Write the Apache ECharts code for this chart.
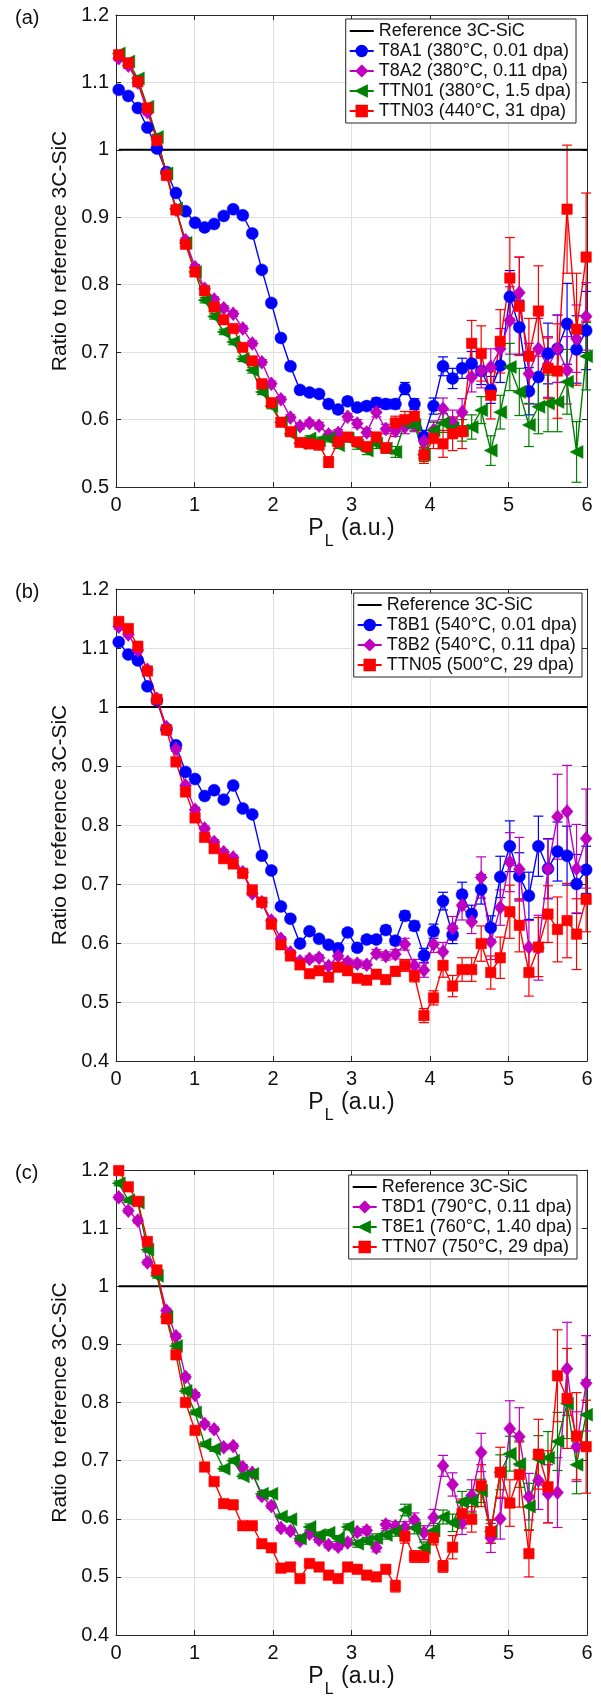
<!DOCTYPE html>
<html><head><meta charset="utf-8">
<script src="https://cdn.jsdelivr.net/npm/echarts@6/dist/echarts.min.js"></script>
<style>html,body{margin:0;padding:0;background:#fff}#c{width:601px;height:1699px}</style>
</head><body><div id="c"></div>
<script>
// ---------- data ----------
const PL = [0.035,0.157,0.278,0.400,0.521,0.643,0.764,0.886,1.007,1.129,1.250,1.372,1.493,1.615,1.736,1.858,1.979,2.101,2.222,2.344,2.465,2.587,2.708,2.830,2.951,3.073,3.194,3.316,3.437,3.559,3.680,3.802,3.923,4.045,4.166,4.288,4.409,4.531,4.652,4.774,4.895,5.017,5.138,5.260,5.381,5.503,5.624,5.746,5.867,5.989];
const X_TICKS = [0,1,2,3,4,5,6];
const REF_VALUE = 1;
const REF_NAME = 'Reference 3C-SiC';

// panel (a)
const T8A1 = [1.089,1.080,1.062,1.033,1.002,0.967,0.936,0.909,0.892,0.885,0.890,0.902,0.912,0.903,0.876,0.822,0.773,0.721,0.679,0.644,0.640,0.638,0.623,0.615,0.627,
              0.618,0.620,0.625,0.623,0.623,0.646,0.623,0.574,0.620,0.679,0.661,0.676,0.683,0.672,0.644,0.680,0.782,0.737,0.642,0.663,0.698,0.705,0.742,0.704,0.732];
const T8A1_ERR = [0.004,0.004,0.004,0.004,0.004,0.004,0.004,0.004,0.004,0.004,0.004,0.004,0.004,0.004,0.004,0.004,0.004,0.004,0.005,0.005,0.005,0.005,0.006,0.006,0.006,
              0.006,0.006,0.007,0.007,0.007,0.009,0.008,0.010,0.012,0.014,0.015,0.015,0.018,0.020,0.020,0.025,0.039,0.040,0.035,0.040,0.045,0.050,0.060,0.050,0.058];
const T8A2 = [1.136,1.125,1.100,1.056,1.015,0.965,0.911,0.866,0.826,0.794,0.778,0.765,0.757,0.735,0.713,0.685,0.653,0.630,0.603,0.590,0.595,0.591,0.578,0.580,0.604,
              0.594,0.581,0.611,0.586,0.583,0.589,0.592,0.568,0.584,0.616,0.596,0.611,0.663,0.672,0.678,0.705,0.747,0.788,0.668,0.705,0.678,0.705,0.673,0.720,0.753];
const T8A2_ERR = [0.004,0.004,0.004,0.004,0.004,0.004,0.004,0.004,0.004,0.004,0.004,0.004,0.004,0.004,0.004,0.004,0.004,0.004,0.004,0.004,0.004,0.005,0.005,0.005,0.005,
              0.006,0.006,0.007,0.007,0.008,0.010,0.010,0.012,0.014,0.016,0.018,0.020,0.022,0.025,0.027,0.030,0.050,0.053,0.045,0.045,0.045,0.050,0.050,0.050,0.050];
const TTN01 = [1.143,1.131,1.106,1.064,1.019,0.965,0.913,0.862,0.819,0.777,0.753,0.730,0.715,0.690,0.673,0.641,0.620,0.596,0.579,0.565,0.572,0.569,0.572,0.562,0.572,
              0.562,0.554,0.564,0.557,0.552,0.595,0.592,0.548,0.584,0.595,0.587,0.584,0.589,0.614,0.554,0.611,0.678,0.641,0.592,0.619,0.624,0.626,0.656,0.552,0.694];
const TTN01_ERR = [0.004,0.004,0.004,0.004,0.004,0.004,0.004,0.004,0.004,0.004,0.004,0.004,0.004,0.004,0.004,0.004,0.004,0.004,0.004,0.004,0.004,0.005,0.005,0.005,0.005,
              0.006,0.006,0.007,0.007,0.008,0.008,0.008,0.010,0.012,0.014,0.015,0.016,0.018,0.020,0.022,0.025,0.035,0.035,0.032,0.040,0.042,0.044,0.048,0.045,0.050];
const TTN03 = [1.141,1.129,1.101,1.062,1.014,0.962,0.911,0.860,0.819,0.791,0.767,0.748,0.735,0.707,0.687,0.653,0.625,0.596,0.582,0.566,0.564,0.562,0.537,0.567,0.574,
              0.567,0.560,0.574,0.558,0.595,0.600,0.605,0.547,0.572,0.564,0.579,0.582,0.713,0.698,0.636,0.716,0.810,0.768,0.694,0.761,0.676,0.672,0.912,0.734,0.841];
const TTN03_ERR = [0.004,0.004,0.004,0.004,0.004,0.004,0.004,0.004,0.004,0.004,0.004,0.004,0.004,0.004,0.004,0.004,0.004,0.004,0.005,0.005,0.005,0.005,0.008,0.006,0.006,
              0.006,0.006,0.007,0.007,0.010,0.012,0.012,0.012,0.015,0.020,0.025,0.025,0.034,0.041,0.035,0.047,0.060,0.073,0.056,0.067,0.045,0.070,0.095,0.083,0.095];

// panel (b)
const T8B1 = [1.110,1.089,1.079,1.035,1.011,0.962,0.935,0.890,0.878,0.849,0.859,0.843,0.867,0.828,0.818,0.748,0.723,0.662,0.641,0.599,0.620,0.607,0.597,0.591,0.618,
              0.592,0.606,0.606,0.622,0.604,0.646,0.629,0.579,0.620,0.671,0.614,0.682,0.649,0.691,0.626,0.712,0.764,0.713,0.680,0.764,0.726,0.755,0.748,0.700,0.724];
const T8B1_ERR = [0.004,0.004,0.004,0.004,0.004,0.004,0.004,0.004,0.004,0.004,0.004,0.004,0.004,0.004,0.004,0.004,0.004,0.004,0.004,0.005,0.005,0.005,0.005,0.006,0.006,
              0.006,0.006,0.006,0.007,0.007,0.008,0.008,0.012,0.012,0.015,0.015,0.021,0.015,0.025,0.020,0.035,0.043,0.040,0.040,0.051,0.051,0.050,0.050,0.050,0.040];
const T8B2 = [1.136,1.123,1.096,1.063,1.014,0.966,0.929,0.867,0.826,0.794,0.771,0.754,0.745,0.720,0.684,0.669,0.638,0.607,0.584,0.569,0.573,0.575,0.561,0.578,0.568,
              0.565,0.563,0.582,0.578,0.581,0.598,0.562,0.554,0.598,0.585,0.625,0.664,0.636,0.711,0.602,0.660,0.737,0.725,0.593,0.592,0.726,0.814,0.823,0.726,0.777];
const T8B2_ERR = [0.004,0.004,0.004,0.004,0.004,0.004,0.004,0.004,0.004,0.004,0.004,0.004,0.004,0.004,0.004,0.004,0.004,0.004,0.004,0.005,0.005,0.005,0.005,0.005,0.005,
              0.006,0.006,0.007,0.007,0.008,0.010,0.010,0.012,0.014,0.016,0.020,0.025,0.020,0.035,0.030,0.030,0.050,0.054,0.045,0.055,0.050,0.072,0.078,0.075,0.084];
const TTN05 = [1.145,1.133,1.103,1.061,1.013,0.961,0.907,0.856,0.812,0.779,0.760,0.743,0.734,0.718,0.690,0.669,0.632,0.597,0.578,0.563,0.548,0.553,0.542,0.559,0.553,
              0.540,0.537,0.547,0.538,0.552,0.562,0.544,0.477,0.507,0.562,0.527,0.555,0.555,0.599,0.550,0.575,0.653,0.630,0.550,0.593,0.649,0.623,0.638,0.615,0.674];
const TTN05_ERR = [0.004,0.004,0.004,0.004,0.004,0.004,0.004,0.004,0.004,0.004,0.004,0.004,0.004,0.004,0.004,0.004,0.004,0.004,0.004,0.005,0.005,0.005,0.005,0.005,0.005,
              0.006,0.006,0.007,0.007,0.008,0.010,0.010,0.012,0.012,0.020,0.018,0.020,0.020,0.030,0.028,0.035,0.045,0.045,0.040,0.050,0.048,0.055,0.063,0.060,0.055];

// panel (c)
const T8D1 = [1.153,1.130,1.113,1.041,1.023,0.958,0.914,0.844,0.813,0.763,0.754,0.723,0.725,0.689,0.679,0.639,0.622,0.584,0.579,0.562,0.574,0.564,0.555,0.552,0.559,
              0.577,0.580,0.550,0.590,0.587,0.585,0.598,0.576,0.602,0.691,0.659,0.593,0.640,0.714,0.567,0.600,0.755,0.741,0.638,0.666,0.643,0.645,0.858,0.724,0.833];
const T8D1_ERR = [0.004,0.004,0.004,0.004,0.004,0.004,0.004,0.004,0.004,0.004,0.004,0.004,0.004,0.004,0.004,0.004,0.004,0.004,0.004,0.005,0.005,0.005,0.005,0.005,0.005,
              0.006,0.006,0.007,0.007,0.008,0.010,0.012,0.012,0.014,0.018,0.020,0.020,0.027,0.033,0.025,0.035,0.048,0.050,0.040,0.050,0.050,0.060,0.080,0.060,0.082];
const T8E1 = [1.177,1.148,1.144,1.063,1.018,0.947,0.897,0.820,0.783,0.728,0.720,0.686,0.700,0.673,0.677,0.643,0.643,0.604,0.599,0.566,0.586,0.572,0.576,0.566,0.586,
              0.557,0.562,0.567,0.572,0.578,0.615,0.584,0.550,0.580,0.603,0.593,0.629,0.630,0.648,0.578,0.680,0.712,0.694,0.621,0.703,0.705,0.733,0.798,0.693,0.779];
const T8E1_ERR = [0.004,0.004,0.004,0.004,0.004,0.004,0.004,0.004,0.004,0.004,0.004,0.004,0.004,0.004,0.004,0.004,0.004,0.004,0.004,0.005,0.005,0.005,0.005,0.005,0.005,
              0.006,0.006,0.007,0.007,0.008,0.010,0.010,0.010,0.012,0.012,0.015,0.018,0.020,0.020,0.020,0.030,0.030,0.040,0.040,0.040,0.045,0.050,0.060,0.050,0.060];
const TTN07 = [1.199,1.171,1.146,1.077,1.028,0.944,0.882,0.800,0.752,0.689,0.664,0.626,0.624,0.588,0.588,0.557,0.550,0.515,0.517,0.497,0.523,0.517,0.503,0.497,0.517,
              0.513,0.503,0.500,0.513,0.484,0.570,0.535,0.535,0.567,0.518,0.551,0.609,0.599,0.657,0.578,0.680,0.627,0.676,0.540,0.711,0.655,0.846,0.807,0.742,0.724];
const TTN07_ERR = [0.004,0.004,0.004,0.004,0.004,0.004,0.004,0.004,0.004,0.004,0.004,0.004,0.004,0.004,0.004,0.004,0.004,0.004,0.004,0.005,0.005,0.005,0.005,0.005,0.005,
              0.006,0.006,0.007,0.007,0.010,0.012,0.010,0.010,0.012,0.010,0.020,0.025,0.022,0.036,0.020,0.043,0.040,0.056,0.040,0.060,0.062,0.079,0.086,0.075,0.080];

// ---------- styling ----------
const FONT = "'Liberation Sans', Arial, Helvetica, sans-serif";
const AX = '#262626', GRID = '#e0e0e0', TXT = '#111111';
const BLUE = '#0000ff', MAG = '#bf00bf', GREEN = '#008000', RED = '#ff0000';

const PANELS = [
  {top: 15, ymin: 0.5, letter: '(a)', legendTop: 19, legendRight: 25, series: [
    {name: 'T8A1 (380°C, 0.01 dpa)', v: T8A1, e: T8A1_ERR, c: BLUE, sym: 'circle', size: 12},
    {name: 'T8A2 (380°C, 0.11 dpa)', v: T8A2, e: T8A2_ERR, c: MAG, sym: 'diamond', size: [12, 14]},
    {name: 'TTN01 (380°C, 1.5 dpa)', v: TTN01, e: TTN01_ERR, c: GREEN, sym: 'triangle', size: 13, rot: 90},
    {name: 'TTN03 (440°C, 31 dpa)', v: TTN03, e: TTN03_ERR, c: RED, sym: 'rect', size: 10.5}]},
  {top: 589, ymin: 0.4, letter: '(b)', legendTop: 593, legendRight: 19, series: [
    {name: 'T8B1 (540°C, 0.01 dpa)', v: T8B1, e: T8B1_ERR, c: BLUE, sym: 'circle', size: 12},
    {name: 'T8B2 (540°C, 0.11 dpa)', v: T8B2, e: T8B2_ERR, c: MAG, sym: 'diamond', size: [12, 14]},
    {name: 'TTN05 (500°C, 29 dpa)', v: TTN05, e: TTN05_ERR, c: RED, sym: 'rect', size: 10.5}]},
  {top: 1170, ymin: 0.4, letter: '(c)', legendTop: 1175, legendRight: 24, series: [
    {name: 'T8D1 (790°C, 0.11 dpa)', v: T8D1, e: T8D1_ERR, c: MAG, sym: 'diamond', size: [12, 14]},
    {name: 'T8E1 (760°C, 1.40 dpa)', v: T8E1, e: T8E1_ERR, c: GREEN, sym: 'triangle', size: 13, rot: 90},
    {name: 'TTN07 (750°C, 29 dpa)', v: TTN07, e: TTN07_ERR, c: RED, sym: 'rect', size: 10.5}]}
];
const PLOT_LEFT = 116, PLOT_W = 471, PLOT_H = 472;

function errRender(color) {
  return function (params, api) {
    const x = api.value(0), lo = api.value(1), hi = api.value(2);
    const a = api.coord([x, lo]), b = api.coord([x, hi]);
    const w = 5;
    const st = {stroke: color, lineWidth: 1.2};
    return {type: 'group', children: [
      {type: 'line', shape: {x1: a[0], y1: a[1], x2: b[0], y2: b[1]}, style: st},
      {type: 'line', shape: {x1: a[0] - w, y1: a[1], x2: a[0] + w, y2: a[1]}, style: st},
      {type: 'line', shape: {x1: b[0] - w, y1: b[1], x2: b[0] + w, y2: b[1]}, style: st}
    ]};
  };
}

const grid = [], xAxis = [], yAxis = [], series = [], legend = [], graphic = [];
PANELS.forEach((p, k) => {
  grid.push({left: PLOT_LEFT, top: p.top, width: PLOT_W, height: PLOT_H, containLabel: false});
  const axLine = {show: true, onZero: false, lineStyle: {color: AX, width: 1}};
  const tick = {show: true, inside: true, length: 5, lineStyle: {color: AX, width: 1}};
  xAxis.push({
    gridIndex: k, type: 'value', min: X_TICKS[0], max: X_TICKS[X_TICKS.length - 1], interval: 1, position: 'bottom',
    axisLine: axLine, axisTick: tick,
    axisLabel: {margin: 8, fontSize: 20, color: TXT, fontFamily: FONT},
    splitLine: {show: true, lineStyle: {color: GRID, width: 1}},
    name: '{a|P}{b|L}{a| (a.u.)}', nameLocation: 'middle', nameGap: 30,
    nameTextStyle: {rich: {
      a: {fontSize: 23, fontFamily: FONT, color: TXT, lineHeight: 26, verticalAlign: 'top'},
      b: {fontSize: 16, fontFamily: FONT, color: TXT, lineHeight: 16, verticalAlign: 'top', padding: [17, 1, 0, 1]}
    }}
  });
  xAxis.push({
    gridIndex: k, type: 'value', min: X_TICKS[0], max: X_TICKS[X_TICKS.length - 1], interval: 1, position: 'top',
    axisLine: axLine, axisTick: tick, axisLabel: {show: false}, splitLine: {show: false}
  });
  yAxis.push({
    gridIndex: k, type: 'value', min: p.ymin, max: 1.2, interval: 0.1, position: 'left',
    axisLine: axLine, axisTick: tick,
    axisLabel: {margin: 7, fontSize: 20, color: TXT, fontFamily: FONT,
      formatter: v => String(Math.round(v * 10) / 10)},
    splitLine: {show: true, lineStyle: {color: GRID, width: 1}},
    name: 'Ratio to reference 3C-SiC', nameLocation: 'middle', nameGap: 43,
    nameTextStyle: {fontSize: 21, fontFamily: FONT, color: TXT}
  });
  yAxis.push({
    gridIndex: k, type: 'value', min: p.ymin, max: 1.2, interval: 0.1, position: 'right',
    axisLine: axLine, axisTick: tick, axisLabel: {show: false}, splitLine: {show: false}
  });
  const xi = 2 * k, yi = 2 * k;
  series.push({
    name: REF_NAME, type: 'line', xAxisIndex: xi, yAxisIndex: yi, symbol: 'none',
    data: [[PL[0], REF_VALUE], [X_TICKS[X_TICKS.length - 1], REF_VALUE]],
    lineStyle: {color: '#000', width: 2}, itemStyle: {color: '#000'}, animation: false, z: 2
  });
  p.series.forEach(s => {
    series.push({
      type: 'custom', xAxisIndex: xi, yAxisIndex: yi, renderItem: errRender(s.c), silent: true,
      data: PL.map((x, i) => [x, s.v[i] - s.e[i], s.v[i] + s.e[i]]),
      encode: {x: 0, y: [1, 2]}, animation: false, z: 2
    });
    series.push({
      name: s.name, type: 'line', xAxisIndex: xi, yAxisIndex: yi,
      data: PL.map((x, i) => [x, s.v[i]]),
      symbol: s.sym, symbolSize: s.size, symbolRotate: s.rot || 0, showSymbol: true,
      lineStyle: {color: s.c, width: 1.4},
      itemStyle: {color: s.c, borderColor: s.c, borderWidth: 0.5},
      emphasis: {disabled: true}, animation: false, z: 2
    });
  });
  legend.push({
    data: [{name: REF_NAME, itemStyle: {opacity: 0}}].concat(p.series.map(s => ({name: s.name}))),
    orient: 'vertical',
    right: p.legendRight, top: p.legendTop, itemWidth: 24, itemHeight: 13, itemGap: 0,
    padding: [2, 5, 2, 3], borderColor: AX, borderWidth: 1, backgroundColor: '#fff',
    selectedMode: false, textStyle: {fontSize: 18, fontFamily: FONT, color: TXT, lineHeight: 20}
  });
  graphic.push({type: 'text', left: 15, top: p.top - 7,
    style: {text: p.letter, fontSize: 20, fontFamily: FONT, fill: TXT}});
});

const chart = echarts.init(document.getElementById('c'), null, {renderer: 'canvas'});
chart.setOption({animation: false, backgroundColor: '#fff', grid, xAxis, yAxis, series, legend, graphic});
</script>
</body></html>
